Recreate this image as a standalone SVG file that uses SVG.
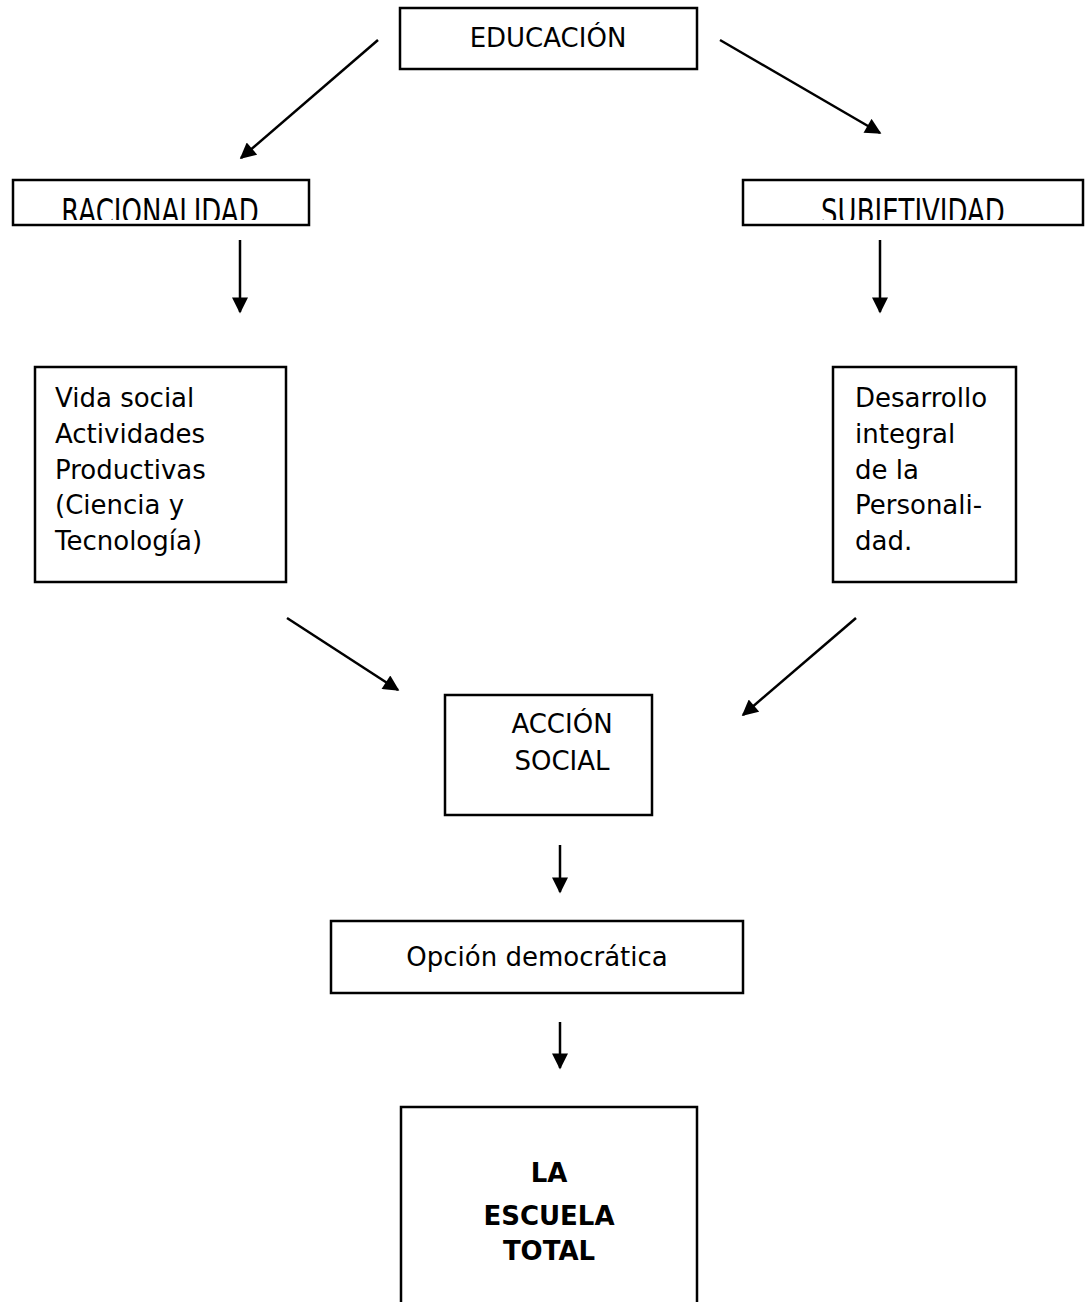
<svg xmlns="http://www.w3.org/2000/svg" width="1088" height="1302" viewBox="0 0 1088 1302">
  <style>
    .box { fill: #ffffff; stroke: #000000; stroke-width: 2.5; }
    .lbl { font-family: "DejaVu Sans", Verdana, sans-serif; font-size: 26px; fill: #000000; }
    .mid { text-anchor: middle; }
    .bold { font-weight: bold; }
  </style>
  <defs>
    <marker id="head" viewBox="0 0 10 10" refX="9" refY="5" markerWidth="18" markerHeight="16" markerUnits="userSpaceOnUse" orient="auto">
      <path d="M0,0 L10,5 L0,10 z" fill="#000000"/>
    </marker>
    <clipPath id="clipRac"><rect x="14" y="181" width="295" height="39"/></clipPath>
    <clipPath id="clipSub"><rect x="744" y="181" width="338" height="39"/></clipPath>
  </defs>

  <!-- connectors -->
  <g id="connectors" stroke="#000000" stroke-width="2.5" fill="none" marker-end="url(#head)">
    <line x1="378" y1="40" x2="241" y2="158"/>
    <line x1="720" y1="40" x2="880" y2="133"/>
    <line x1="240" y1="240" x2="240" y2="312"/>
    <line x1="880" y1="240" x2="880" y2="312"/>
    <line x1="287" y1="618" x2="398" y2="690"/>
    <line x1="856" y1="618" x2="743" y2="715"/>
    <line x1="560" y1="845" x2="560" y2="892"/>
    <line x1="560" y1="1022" x2="560" y2="1068"/>
  </g>

  <g id="educacion">
    <rect class="box" x="400" y="8" width="297" height="61"/>
    <text class="lbl mid" x="548" y="47">EDUCACIÓN</text>
  </g>

  <g id="racionalidad">
    <rect class="box" x="13" y="180" width="296" height="45"/>
    <g clip-path="url(#clipRac)">
      <text class="lbl mid" transform="translate(160,224) scale(1,1.35)">RACIONALIDAD</text>
    </g>
  </g>

  <g id="subjetividad">
    <rect class="box" x="743" y="180" width="340" height="45"/>
    <g clip-path="url(#clipSub)">
      <text class="lbl mid" transform="translate(913,224) scale(1,1.35)">SUBJETIVIDAD</text>
    </g>
  </g>

  <g id="vida-social">
    <rect class="box" x="35" y="367" width="251" height="215"/>
    <text class="lbl" x="55" y="407">Vida social</text>
    <text class="lbl" x="55" y="443">Actividades</text>
    <text class="lbl" x="55" y="479">Productivas</text>
    <text class="lbl" x="55" y="514">(Ciencia y</text>
    <text class="lbl" x="55" y="550">Tecnología)</text>
  </g>

  <g id="desarrollo">
    <rect class="box" x="833" y="367" width="183" height="215"/>
    <text class="lbl" x="855" y="407">Desarrollo</text>
    <text class="lbl" x="855" y="443">integral</text>
    <text class="lbl" x="855" y="479">de la</text>
    <text class="lbl" x="855" y="514">Personali-</text>
    <text class="lbl" x="855" y="550">dad.</text>
  </g>

  <g id="accion-social">
    <rect class="box" x="445" y="695" width="207" height="120"/>
    <text class="lbl mid" x="562" y="733">ACCIÓN</text>
    <text class="lbl mid" x="562" y="770">SOCIAL</text>
  </g>

  <g id="opcion-democratica">
    <rect class="box" x="331" y="921" width="412" height="72"/>
    <text class="lbl mid" x="537" y="966">Opción democrática</text>
  </g>

  <g id="escuela-total">
    <path class="box" d="M401,1310 L401,1107 L697,1107 L697,1310"/>
    <text class="lbl mid bold" x="549" y="1182">LA</text>
    <text class="lbl mid bold" x="549" y="1225">ESCUELA</text>
    <text class="lbl mid bold" x="549" y="1260">TOTAL</text>
  </g>
</svg>
